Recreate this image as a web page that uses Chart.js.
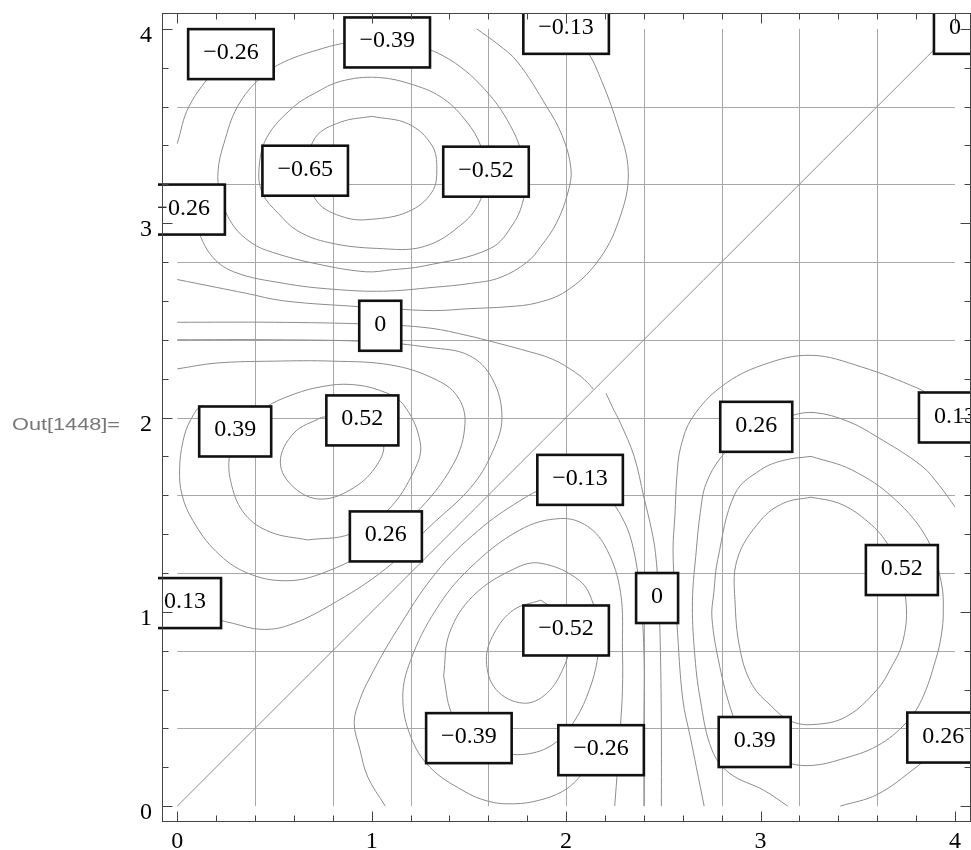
<!DOCTYPE html>
<html><head><meta charset="utf-8">
<script src="https://cdn.jsdelivr.net/npm/chart.js@4/dist/chart.umd.min.js"></script>
<style>html,body{margin:0;padding:0;background:#fff;overflow:hidden}canvas{display:block}</style>
</head><body>
<canvas id="c" width="971" height="850"></canvas>
<script>
// ---- axis / mesh values ----
const majorTicks = [0, 1, 2, 3, 4];
const minorTicks = [0.2, 0.4, 0.6, 0.8, 1.2, 1.4, 1.6, 1.8, 2.2, 2.4, 2.6, 2.8, 3.2, 3.4, 3.6, 3.8];
const meshLines = [0.4, 0.8, 1.2, 1.6, 2.0, 2.4, 2.8, 3.2, 3.6];

// ---- contour lines (x, y) ----
const diag0 = [[0,0],[4,4]];
const zeroUL = [[0,2.49],[0.5,2.49],[1.0,2.48],[1.3,2.46],[1.5,2.42],[1.62,2.39],[1.77,2.35],[1.93,2.3],[2.05,2.23],[2.11,2.18],[2.14,2.145]];
const zeroLR = [[2.205,2.125],[2.24,2.05],[2.28,1.97],[2.35,1.8],[2.4,1.59],[2.44,1.42],[2.46,1.3],[2.475,1.1],[2.485,0.8],[2.49,0.4],[2.49,0]];

const a065 = [[1.0,3.55],[1.19,3.51],[1.31,3.4],[1.335,3.28],[1.31,3.16],[1.19,3.06],[1.0,3.02],[0.86,3.03],[0.72,3.11],[0.67,3.27],[0.71,3.44],[0.84,3.52],[1.0,3.55]];
const a052 = [[1.59,3.26],[1.56,3.4],[1.49,3.52],[1.37,3.64],[1.22,3.71],[1.03,3.75],[0.84,3.73],[0.71,3.67],[0.6,3.6],[0.46,3.44],[0.42,3.27],[0.44,3.15],[0.52,3.05],[0.62,2.96],[0.78,2.9],[1.03,2.87],[1.27,2.88],[1.47,3.0],[1.56,3.12],[1.59,3.26]];
const a039 = [[1.8,3.26],[1.73,3.47],[1.58,3.69],[1.37,3.86],[1.15,3.93],[1.0,3.94],[0.88,3.93],[0.75,3.9],[0.55,3.83],[0.43,3.75],[0.31,3.6],[0.24,3.41],[0.21,3.27],[0.22,3.15],[0.28,3.0],[0.38,2.9],[0.49,2.85],[0.72,2.79],[0.97,2.75],[1.1,2.76],[1.27,2.78],[1.61,2.87],[1.73,3.0],[1.78,3.12],[1.8,3.26]];
const a026 = [[1.54,4.0],[1.65,3.92],[1.75,3.83],[1.9,3.6],[1.98,3.45],[2.025,3.28],[2.01,3.16],[1.95,3.0],[1.87,2.88],[1.8,2.8],[1.66,2.72],[1.51,2.69],[1.32,2.67],[1.06,2.65],[0.8,2.66],[0.55,2.69],[0.29,2.75],[0.17,2.84],[0.08,3.02],[0.0,3.14]];
const a026c = [[0.0,3.41],[0.06,3.6],[0.2,3.8],[0.3,3.92],[0.36,4.0]];
const a013 = [[2.05,4.0],[2.1,3.9],[2.15,3.81],[2.26,3.52],[2.32,3.26],[2.27,3.01],[2.16,2.8],[2.0,2.65],[1.85,2.59],[1.7,2.57],[1.5,2.56],[1.32,2.55],[1.1,2.56],[0.94,2.57],[0.55,2.6],[0.35,2.64],[0.2,2.67],[0.0,2.71]];

const b052 = [[0.74,2.0],[0.6,1.92],[0.53,1.77],[0.6,1.64],[0.74,1.58],[0.91,1.64],[1.03,1.76],[1.06,1.87],[0.98,1.98],[0.86,2.02],[0.74,2.0]];
const b039 = [[0.67,1.37],[0.89,1.4],[1.08,1.52],[1.22,1.73],[1.25,1.87],[1.16,2.07],[1.04,2.14],[0.89,2.17],[0.75,2.16],[0.6,2.12],[0.45,2.05],[0.33,1.95],[0.27,1.81],[0.28,1.65],[0.35,1.5],[0.48,1.41],[0.67,1.37]];
const b026 = [[0.0,2.25],[0.2,2.28],[0.5,2.29],[0.8,2.29],[1.1,2.27],[1.32,2.2],[1.44,2.11],[1.48,1.97],[1.42,1.76],[1.22,1.5],[1.01,1.33],[0.75,1.2],[0.56,1.16],[0.36,1.2],[0.2,1.31],[0.08,1.47],[0.025,1.6],[0.012,1.73],[0.03,1.88],[0.07,1.99],[0.13,2.06],[0.2,1.98]];
const b013 = [[0,1.07],[0.15,0.98],[0.29,0.94],[0.43,0.91],[0.57,0.93],[0.78,1.03],[1.07,1.22],[1.3,1.44],[1.51,1.64],[1.62,1.82],[1.67,2.0],[1.62,2.2],[1.5,2.32],[1.3,2.36],[1.0,2.39],[0.5,2.4],[0,2.4]];

const c052 = [[1.87,1.06],[1.73,1.01],[1.63,0.89],[1.59,0.75],[1.64,0.6],[1.78,0.53],[1.9,0.58],[1.99,0.72],[2.02,0.85],[1.99,0.97],[1.87,1.06]];
const c039 = [[1.37,0.67],[1.4,0.89],[1.52,1.08],[1.73,1.22],[1.87,1.25],[2.07,1.16],[2.14,1.04],[2.17,0.89],[2.16,0.75],[2.12,0.6],[2.05,0.45],[1.95,0.33],[1.81,0.27],[1.65,0.28],[1.5,0.35],[1.41,0.48],[1.37,0.67]];
const c026 = [[2.25,0.0],[2.265,0.2],[2.28,0.42],[2.29,0.6],[2.29,0.8],[2.28,1.1],[2.21,1.32],[2.11,1.44],[1.97,1.48],[1.76,1.42],[1.5,1.22],[1.33,1.01],[1.2,0.75],[1.16,0.56],[1.2,0.36],[1.3,0.2],[1.47,0.08],[1.6,0.025],[1.73,0.012],[1.86,0.03],[1.98,0.075],[2.06,0.14],[2.12,0.22]];
const c013 = [[1.07,0],[0.98,0.15],[0.94,0.29],[0.91,0.43],[0.94,0.55],[0.99,0.66],[1.12,0.89],[1.33,1.2],[1.55,1.42],[1.76,1.57],[1.9,1.64],[2.07,1.67],[2.2,1.6],[2.28,1.5],[2.34,1.35],[2.38,1.1],[2.4,0.8],[2.4,0.4],[2.4,0]];

const d052 = [[3.26,1.59],[3.4,1.56],[3.52,1.49],[3.64,1.37],[3.71,1.22],[3.75,1.03],[3.73,0.84],[3.67,0.71],[3.6,0.6],[3.44,0.46],[3.27,0.42],[3.15,0.44],[3.05,0.52],[2.96,0.62],[2.9,0.78],[2.87,1.03],[2.88,1.27],[3.0,1.47],[3.12,1.56],[3.26,1.59]];
const d039 = [[3.26,1.8],[3.47,1.73],[3.69,1.58],[3.86,1.37],[3.93,1.15],[3.94,1.0],[3.93,0.88],[3.9,0.75],[3.83,0.55],[3.75,0.43],[3.6,0.31],[3.41,0.24],[3.27,0.21],[3.15,0.22],[3.0,0.28],[2.9,0.38],[2.85,0.49],[2.79,0.72],[2.75,0.97],[2.76,1.1],[2.78,1.27],[2.87,1.61],[3.0,1.73],[3.12,1.78],[3.26,1.8]];
const d026 = [[4.0,1.54],[3.92,1.65],[3.83,1.75],[3.6,1.9],[3.45,1.98],[3.28,2.025],[3.16,2.01],[3.0,1.95],[2.88,1.87],[2.8,1.8],[2.72,1.66],[2.69,1.51],[2.67,1.32],[2.65,1.06],[2.66,0.8],[2.69,0.55],[2.75,0.29],[2.84,0.17],[3.02,0.08],[3.14,0.0]];
const d026c = [[3.41,0.0],[3.6,0.06],[3.8,0.2],[3.92,0.3],[4.0,0.36]];
const d013 = [[4.0,2.05],[3.9,2.1],[3.81,2.15],[3.52,2.26],[3.26,2.32],[3.01,2.27],[2.8,2.16],[2.65,2.0],[2.59,1.85],[2.57,1.7],[2.56,1.5],[2.55,1.32],[2.56,1.1],[2.57,0.94],[2.6,0.55],[2.64,0.35],[2.67,0.2],[2.71,0.0]];

const contours = [diag0, zeroUL, zeroLR, a065, a052, a039, a026, a026c, a013,
  b052, b039, b026, b013, c052, c039, c026, c013, d052, d039, d026, d026c, d013];

// ---- contour labels ----
const labelText = ['−0.26','−0.39','−0.13','0','−0.65','−0.52','−0.26','0','0.39','0.52','0.26','−0.13','0.26','0.13','0.13','0.52','0','−0.52','−0.39','−0.26','0.39','0.26'];
const labelX = [0.276,1.08,2.0,4.0,0.658,1.588,0.025,1.044,0.298,0.952,1.073,2.072,2.978,4.0,0.04,3.727,2.468,2.0,1.5,2.18,2.97,3.94];
const labelY = [3.87,3.93,4.0,4.0,3.27,3.265,3.07,2.472,1.928,1.985,1.388,1.679,1.952,2.0,1.045,1.215,1.071,0.904,0.35,0.288,0.33,0.353];

const CONTOUR_COLOR = '#8c8c8c';
const MESH_COLOR = '#a8a8a8';
const SERIF = '"Liberation Serif", "DejaVu Serif", serif';

const datasets = contours.map(c => ({
  data: c.map(p => ({x: p[0], y: p[1]})),
  showLine: true, borderColor: CONTOUR_COLOR, borderWidth: 1,
  pointRadius: 0, tension: 0.38, fill: false
}));

const meshPlugin = {
  id: 'mesh',
  beforeDatasetsDraw(chart) {
    const {ctx, scales: {x, y}} = chart;
    ctx.save();
    ctx.strokeStyle = MESH_COLOR; ctx.lineWidth = 1;
    meshLines.forEach(v => {
      const px = Math.round(x.getPixelForValue(v)) + 0.5;
      const py = Math.round(y.getPixelForValue(v)) + 0.5;
      ctx.beginPath();
      ctx.moveTo(px, y.getPixelForValue(0)); ctx.lineTo(px, y.getPixelForValue(4));
      ctx.moveTo(x.getPixelForValue(0), py); ctx.lineTo(x.getPixelForValue(4), py);
      ctx.stroke();
    });
    ctx.restore();
  }
};

const labelPlugin = {
  id: 'clabels',
  afterDatasetsDraw(chart) {
    const {ctx, chartArea: a, scales: {x, y}} = chart;
    ctx.save();
    ctx.beginPath();
    ctx.rect(158, a.top, chart.width - 158, a.bottom - a.top);
    ctx.clip();
    ctx.font = '24px ' + SERIF;
    labelText.forEach((t, i) => {
      const cx = x.getPixelForValue(labelX[i]);
      const cy = y.getPixelForValue(labelY[i]);
      const w = ctx.measureText(t).width + 30;
      const h = 50;
      ctx.fillStyle = '#fff';
      ctx.fillRect(cx - w / 2, cy - h / 2, w, h);
      ctx.lineWidth = 2.6; ctx.strokeStyle = '#111';
      ctx.strokeRect(cx - w / 2, cy - h / 2, w, h);
      ctx.fillStyle = '#000';
      ctx.textAlign = 'center'; ctx.textBaseline = 'alphabetic';
      ctx.fillText(t, cx, cy + 5);
    });
    ctx.restore();
  }
};

const framePlugin = {
  id: 'frame',
  afterDraw(chart) {
    const {ctx, chartArea: a, scales: {x, y}} = chart;
    ctx.save();
    ctx.strokeStyle = '#444'; ctx.lineWidth = 1;
    const L = Math.round(a.left) + 0.5, R = Math.round(a.right) - 0.5;
    const T = Math.round(a.top) + 0.5, B = Math.round(a.bottom) - 0.5;
    ctx.strokeRect(L, T, R - L, B - T);
    const tick = (v, len) => {
      const px = Math.round(x.getPixelForValue(v)) + 0.5;
      const py = Math.round(y.getPixelForValue(v)) + 0.5;
      ctx.beginPath();
      ctx.moveTo(px, B); ctx.lineTo(px, B - len);
      ctx.moveTo(px, T); ctx.lineTo(px, T + len);
      ctx.moveTo(L, py); ctx.lineTo(L + len, py);
      ctx.moveTo(R, py); ctx.lineTo(R - len, py);
      ctx.stroke();
    };
    majorTicks.forEach(v => tick(v, 10));
    minorTicks.forEach(v => tick(v, 6));
    ctx.fillStyle = '#000';
    ctx.font = '24px ' + SERIF;
    majorTicks.forEach(v => {
      ctx.textAlign = 'center'; ctx.textBaseline = 'alphabetic';
      ctx.fillText(String(v), x.getPixelForValue(v), 848);
      ctx.textAlign = 'right';
      ctx.fillText(String(v), 152, y.getPixelForValue(v) + 13);
    });
    ctx.fillStyle = '#777';
    ctx.font = '17px "Liberation Sans", Arial, sans-serif';
    ctx.textAlign = 'left';
    const s = 'Out[1448]=';
    const w = ctx.measureText(s).width;
    ctx.translate(12, 430);
    ctx.scale(108 / w, 1);
    ctx.fillText(s, 0, 0);
    ctx.restore();
  }
};

new Chart(document.getElementById('c').getContext('2d'), {
  type: 'scatter',
  data: { datasets },
  options: {
    responsive: false, animation: false, devicePixelRatio: 1,
    layout: { padding: { left: 161.7, right: 0.5, top: 13.3, bottom: 28.3 } },
    plugins: { legend: { display: false }, tooltip: { enabled: false } },
    scales: {
      x: { type: 'linear', min: -0.08, max: 4.08, display: false },
      y: { type: 'linear', min: -0.08, max: 4.08, display: false }
    }
  },
  plugins: [meshPlugin, labelPlugin, framePlugin]
});
</script>
</body></html>
